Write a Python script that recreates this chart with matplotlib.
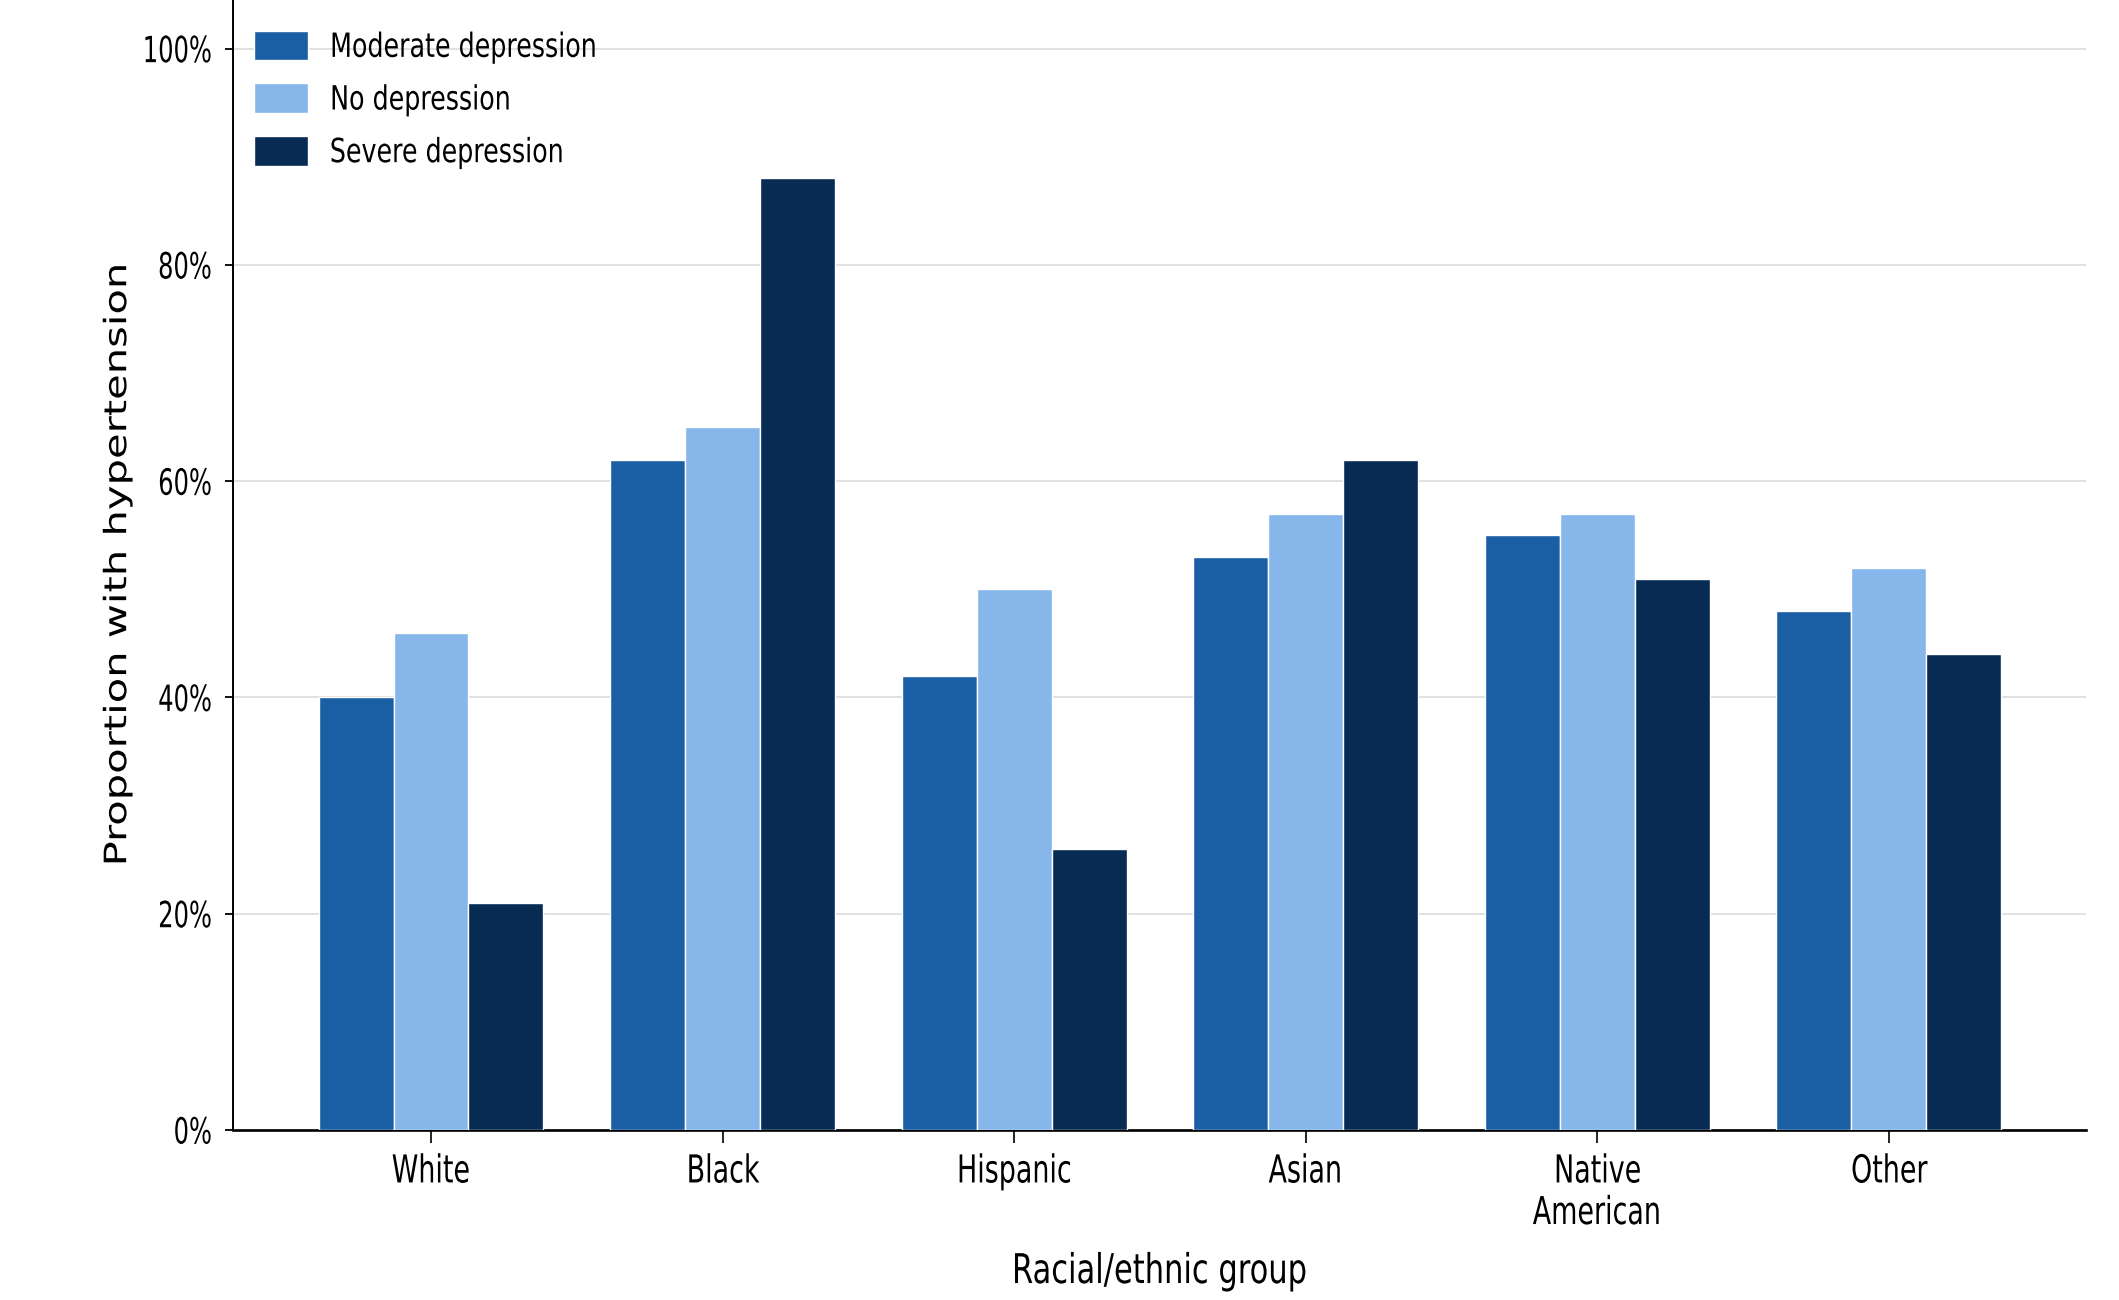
import numpy as np
import matplotlib
matplotlib.use("Agg")
import matplotlib.pyplot as plt
from matplotlib import patheffects
from matplotlib.transforms import Affine2D
from matplotlib.ticker import PercentFormatter


# =========================
# Data (percent with hypertension)
# =========================
groups = ["White", "Black", "Hispanic", "Asian", "Native\nAmerican", "Other"]
moderate = [40, 62, 42, 53, 55, 48]
no_dep = [46, 65, 50, 57, 57, 52]
severe = [21, 88, 26, 62, 51, 44]
series_names = ["Moderate depression", "No depression", "Severe depression"]
y_ticks = [0, 20, 40, 60, 80, 100]

COLORS = ["#1a5ea4", "#86b6ea", "#082b53"]


# reference text looks squeezed sideways, so squash glyphs around an anchor point
class Squash(patheffects.AbstractPathEffect):
    def __init__(self, sx, anchor=0.5):
        super().__init__()
        self.sx = sx
        self.anchor = anchor

    def draw_path(self, renderer, gc, tpath, affine, rgbFace=None):
        ext = tpath.get_extents()
        x0, y0 = affine.transform((ext.x0 + self.anchor * ext.width, 0))
        squeeze = Affine2D().translate(-x0, -y0).scale(self.sx, 1).translate(x0, y0)
        renderer.draw_path(gc, tpath, affine + squeeze, rgbFace)


fig = plt.figure(figsize=(21.19, 13), dpi=100)
ax = fig.add_axes([233 / 2119, 1 - 1130 / 1300, (2086 - 233) / 2119, 1130 / 1300])

x = np.arange(len(groups))
w = 0.257
for i, (vals, name) in enumerate(zip([moderate, no_dep, severe], series_names)):
    ax.bar(x + (i - 1) * w, vals, w, color=COLORS[i], edgecolor="white",
           linewidth=1.0, label=name, zorder=3)

ax.set_xlim(-0.679, 5.676)
ax.set_ylim(0, 104.5)
ax.set_xticks(x)
ax.set_xticklabels(groups)
ax.set_yticks(y_ticks)
ax.yaxis.set_major_formatter(PercentFormatter(100, decimals=0))

ax.yaxis.grid(True, color="#dedede", linewidth=1.3, zorder=0)
ax.set_axisbelow(True)

for s in ["top", "right"]:
    ax.spines[s].set_visible(False)
ax.spines["left"].set_linewidth(1.4)
ax.spines["bottom"].set_linewidth(1.9)

ax.tick_params(axis="y", length=6, width=1.3, pad=8.6, labelsize=26)
ax.tick_params(axis="x", length=9, width=1.2, pad=8.6, labelsize=27.7)

ax.set_xlabel("Racial/ethnic group", fontsize=29.5)
ax.xaxis.set_label_coords(0.5, -0.108)
ax.set_ylabel("Proportion with hypertension", fontsize=30)
ax.yaxis.set_label_coords(-0.0528, 0.5)

leg = ax.legend(loc="upper left", bbox_to_anchor=(0.0115, 0.973), frameon=False,
                fontsize=24, handlelength=1.62, handleheight=1.0,
                handletextpad=0.63, labelspacing=0.58, borderpad=0, borderaxespad=0)

# squash the texts like in the reference
for t in ax.get_yticklabels():
    t.set_path_effects([Squash(0.67, 1.0)])
for t in ax.get_xticklabels():
    t.set_path_effects([Squash(0.70, 0.5)])
for t in leg.get_texts():
    t.set_path_effects([Squash(0.76, 0.0)])
ax.xaxis.label.set_path_effects([Squash(0.745, 0.5)])
ax.yaxis.label.set_path_effects([Squash(0.74, 0.5)])

fig.savefig("out.png", dpi=100)
